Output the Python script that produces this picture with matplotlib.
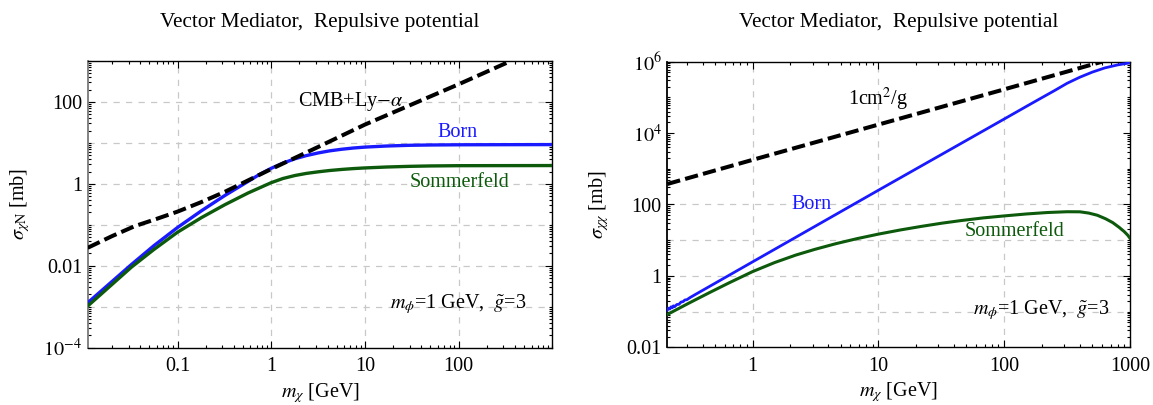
import numpy as np
import matplotlib
matplotlib.use("Agg")
import matplotlib.pyplot as plt
from matplotlib.ticker import FixedLocator, FixedFormatter, NullFormatter

# ---------------- data ----------------
# Left panel: sigma_chiN [mb] vs m_chi [GeV]
left_cmb_x = [0.011, 0.02, 0.035, 0.06, 0.1, 0.18, 0.32, 0.56, 1.0, 3.18, 10.0, 100.0, 360.0]
left_cmb_y = [0.0275, 0.053, 0.093, 0.14, 0.21, 0.36, 0.64, 1.2, 2.3, 8.0, 28.0, 270.0, 1000.0]

left_born_x = [0.011, 0.0323, 0.056, 0.1, 0.18, 0.32, 0.567, 0.75, 1.0, 1.33, 1.79, 2.37, 3.18,
               4.2, 5.64, 7.5, 10.0, 17.0, 30.0, 50.0, 100.0, 300.0, 1000.0]
left_born_y = [0.00125, 0.0108, 0.031, 0.086, 0.22, 0.52, 1.15, 1.7, 2.4, 3.2, 4.1, 4.9, 5.7,
               6.4, 7.0, 7.5, 7.9, 8.4, 8.75, 8.9, 9.0, 9.05, 9.1]

left_som_x = [0.011, 0.0323, 0.056, 0.1, 0.18, 0.32, 0.567, 1.0, 1.33, 1.79, 2.37, 3.18, 4.2,
              5.64, 7.5, 10.0, 17.0, 30.0, 50.0, 100.0, 1000.0]
left_som_y = [0.00104, 0.0093, 0.025, 0.066, 0.15, 0.31, 0.60, 1.07, 1.35, 1.6, 1.8, 1.97, 2.12,
              2.25, 2.36, 2.45, 2.58, 2.68, 2.74, 2.78, 2.8]

# Right panel: sigma_chichi [mb] vs m_chi [GeV]
right_sidm_x = [0.21, 1.0, 10.0, 100.0, 600.0]
right_sidm_y = [375.0, 1780.0, 17300.0, 168000.0, 1.0e6]

right_born_x = [0.21, 0.215, 0.22, 0.225, 0.23, 0.235, 0.24, 0.25, 0.26, 0.27, 0.28, 0.29, 0.30,
                0.32, 0.35, 1.0, 10.0, 100.0, 158.0, 200.0, 251.0, 316.0, 398.0, 501.0, 631.0,
                794.0, 1000.0]
right_born_y = [0.11, 0.125, 0.118, 0.136, 0.128, 0.145, 0.137, 0.158, 0.160, 0.185, 0.190, 0.212,
                0.215, 0.25, 0.30, 2.47, 251.0, 2.48e4, 6.2e4, 9.9e4, 1.55e5, 2.48e5, 3.66e5,
                5.1e5, 6.7e5, 8.1e5, 9.3e5]

right_som_x = [0.21, 0.3, 0.457, 0.65, 1.0, 1.5, 2.2, 3.13, 4.6, 6.8, 10.0, 15.0, 22.0, 32.0,
               46.0, 68.0, 100.0, 150.0, 220.0, 316.0, 400.0, 470.0, 550.0, 640.0, 730.0,
               820.0, 900.0, 960.0, 1000.0]
right_som_y = [0.083, 0.161, 0.344, 0.638, 1.32, 2.37, 3.82, 5.55, 8.0, 11.1, 14.8, 19.4, 24.4,
               30.0, 35.7, 42.1, 47.9, 54.3, 59.6, 62.7, 62.4, 57.5, 50.0, 39.8, 31.0,
               22.9, 17.4, 13.8, 11.3]

left_xticks = [0.1, 1, 10, 100]
left_xticklabels = ["0.1", "1", "10", "100"]
left_yticks = [1e-4, 1e-2, 1, 100]
left_yticklabels = [r"$10^{-4}$", "0.01", "1", "100"]
right_xticks = [1, 10, 100, 1000]
right_xticklabels = ["1", "10", "100", "1000"]
right_yticks = [1e-2, 1, 100, 1e4, 1e6]
right_yticklabels = ["0.01", "1", "100", r"$10^{4}$", r"$10^{6}$"]

grid_x = [0.1, 1, 10, 100]
grid_y = [1e-3, 1e-2, 1e-1, 1, 10, 100]

title = "Vector Mediator,  Repulsive potential"

# ---------------- style ----------------
plt.rcParams["font.family"] = ["Liberation Serif", "DejaVu Serif"]
plt.rcParams["mathtext.fontset"] = "stix"
FS = 14.5
BLUE = "#1a1aff"
GREEN = "#0d5a0d"
GRIDC = "#c8c8c8"

fig = plt.figure(figsize=(11.53, 4.05), dpi=100)
W, H = 1153.0, 405.0

def add_axes(x0, x1, y0, y1):
    return fig.add_axes([x0 / W, 1 - y1 / H, (x1 - x0) / W, (y1 - y0) / H])

axL = add_axes(87.7, 552.3, 61.0, 347.7)
axR = add_axes(667.3, 1130.0, 61.7, 347.3)

def minor_positions(lo_exp, hi_exp, major):
    pos = []
    for e in range(lo_exp, hi_exp + 1):
        for k in range(1, 10):
            v = k * 10.0 ** e
            if not any(abs(v - m) / m < 1e-9 for m in major):
                pos.append(v)
    return pos

def style_axes(ax, xlim, ylim, xt, xtl, yt, ytl, left_spine_color):
    ax.set_xscale("log")
    ax.set_yscale("log")
    ax.set_xlim(*xlim)
    ax.set_ylim(*ylim)
    ax.xaxis.set_major_locator(FixedLocator(xt))
    ax.xaxis.set_major_formatter(FixedFormatter(xtl))
    ax.yaxis.set_major_locator(FixedLocator(yt))
    ax.yaxis.set_major_formatter(FixedFormatter(ytl))
    ax.xaxis.set_minor_locator(FixedLocator(minor_positions(-3, 3, xt)))
    ax.yaxis.set_minor_locator(FixedLocator(minor_positions(-5, 6, yt)))
    ax.xaxis.set_minor_formatter(NullFormatter())
    ax.yaxis.set_minor_formatter(NullFormatter())
    ax.tick_params(which="both", direction="in", top=True, right=True,
                   labelsize=FS, width=0.8, color="black")
    ax.tick_params(which="major", length=5)
    ax.tick_params(which="minor", length=2.5)
    ax.tick_params(axis="x", which="major", pad=7)
    ax.tick_params(axis="y", which="major", pad=4)
    for s in ax.spines.values():
        s.set_linewidth(1.0)
        s.set_color("black")
    ax.spines["left"].set_color(left_spine_color)
    ax.spines["left"].set_linewidth(1.3)
    for gx in grid_x:
        if xlim[0] < gx < xlim[1]:
            ax.axvline(gx, color=GRIDC, lw=0.9, dashes=(5, 5), zorder=0.5)
    for gy in grid_y:
        if ylim[0] < gy < ylim[1]:
            ax.axhline(gy, color=GRIDC, lw=0.9, dashes=(5, 5), zorder=0.5)

# ---------------- left panel ----------------
style_axes(axL, (0.011, 1000), (1e-4, 1e3), left_xticks, left_xticklabels,
           left_yticks, left_yticklabels, "#7a7a7a")
axL.plot(left_born_x, left_born_y, color=BLUE, lw=2.4, zorder=3, solid_joinstyle="round")
axL.plot(left_som_x, left_som_y, color=GREEN, lw=2.4, zorder=3, solid_joinstyle="round")
axL.plot(left_cmb_x, left_cmb_y, color="black", lw=2.9, dashes=(3.3, 1.3), zorder=4)
axL.text(1.92, 100, r"CMB+Ly$-\alpha$", fontsize=FS, ha="left", va="center")
axL.text(98, 17.7, "Born", fontsize=FS, color=BLUE, ha="center", va="center")
axL.text(103, 1.08, "Sommerfeld", fontsize=FS, color=GREEN, ha="center", va="center")
axL.text(98, 0.00114, r"$m_\phi$=1 GeV,  $\tilde{g}$=3", fontsize=FS, ha="center", va="center")
axL.set_ylabel(r"$\sigma_{\chi\mathrm{N}}$ [mb]", fontsize=FS)
axL.set_xlabel(r"$m_\chi$ [GeV]", fontsize=FS)
axL.yaxis.set_label_coords(-0.145, 0.5)
axL.xaxis.set_label_coords(0.5, -0.158)
axL.xaxis.label.set_va("center")
axL.yaxis.label.set_va("center")

# ---------------- right panel ----------------
style_axes(axR, (0.21, 1000), (1e-2, 1e6), right_xticks, right_xticklabels,
           right_yticks, right_yticklabels, "black")
axR.plot(right_born_x, right_born_y, color=BLUE, lw=2.0, zorder=3, solid_joinstyle="round")
axR.plot(right_som_x, right_som_y, color=GREEN, lw=2.2, zorder=3, solid_joinstyle="round")
axR.plot(right_sidm_x, right_sidm_y, color="black", lw=2.9, dashes=(3.3, 1.3), zorder=4)
axR.text(9.9, 8.5e4, r"1cm$^2$/g", fontsize=FS, ha="center", va="center")
axR.text(2.96, 103, "Born", fontsize=FS, color=BLUE, ha="center", va="center")
axR.text(120, 17.3, "Sommerfeld", fontsize=FS, color=GREEN, ha="center", va="center")
axR.text(197, 0.111, r"$m_\phi$=1 GeV,  $\tilde{g}$=3", fontsize=FS, ha="center", va="center")
axR.set_ylabel(r"$\sigma_{\chi\chi}$ [mb]", fontsize=FS)
axR.set_xlabel(r"$m_\chi$ [GeV]", fontsize=FS)
axR.yaxis.set_label_coords(-0.148, 0.5)
axR.xaxis.set_label_coords(0.5, -0.158)
axR.xaxis.label.set_va("center")
axR.yaxis.label.set_va("center")

# titles
fig.text(320.0 / W, 1 - 26.7 / H, title, fontsize=15.3, ha="center", va="baseline")
fig.text(898.6 / W, 1 - 26.7 / H, title, fontsize=15.3, ha="center", va="baseline")

fig.savefig("out.png", dpi=100)
